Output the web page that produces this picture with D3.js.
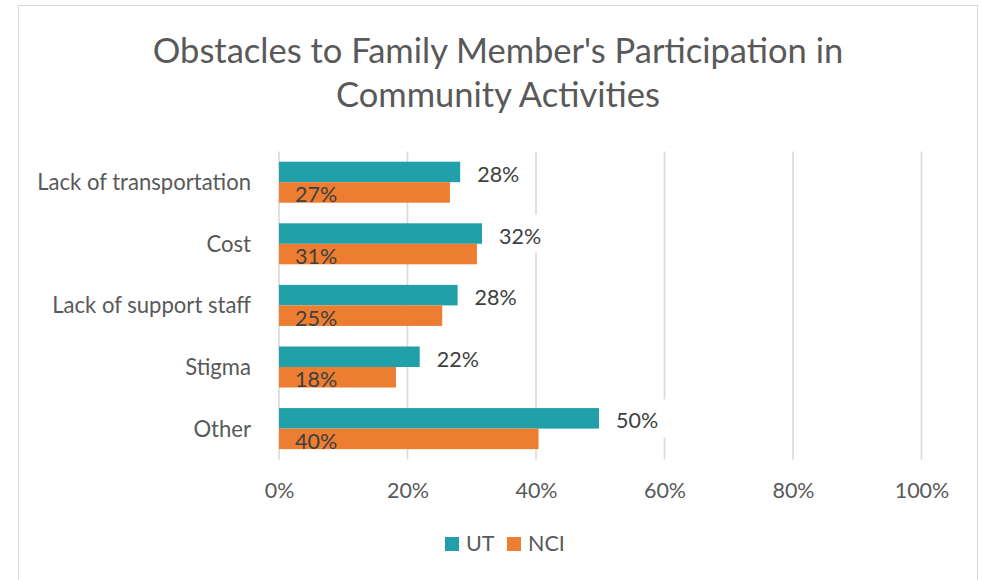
<!DOCTYPE html>
<html>
<head>
<meta charset="utf-8">
<script src="https://cdn.jsdelivr.net/npm/d3@7"></script>
<style>
  html, body { margin: 0; padding: 0; background: #fff; }
  svg { display: block; font-family: Lato, "Open Sans", sans-serif; }
</style>
</head>
<body>
<svg id="chart" width="982" height="580"></svg>
<script>
// Survey data: share of families reporting each obstacle
const categories = ["Lack of transportation", "Cost", "Lack of support staff", "Stigma", "Other"];
const seriesNames = ["UT", "NCI"];
const utValues  = [0.282, 0.316, 0.278, 0.219, 0.498];
const nciValues = [0.266, 0.308, 0.254, 0.182, 0.404];
const xTicks = [0, 0.2, 0.4, 0.6, 0.8, 1.0];
const titleLines = ["Obstacles to Family Member's Participation in", "Community Activities"];

const colors = { UT: "#21A0A9", NCI: "#ED7D31" };
const values = { UT: utValues, NCI: nciValues };
const pct = d3.format(".0%");

const svg = d3.select("#chart");

// Chart frame
svg.append("rect")
  .attr("x", 18.5).attr("y", 5.5)
  .attr("width", 959).attr("height", 600)
  .attr("fill", "#fff").attr("stroke", "#d9d9d9").attr("stroke-width", 1);

// Title
svg.append("text")
  .attr("text-anchor", "middle")
  .attr("fill", "#595959")
  .attr("font-size", 34.5)
  .selectAll("tspan").data(titleLines).join("tspan")
  .attr("x", 498)
  .attr("y", (d, i) => 63 + i * 44)
  .text(d => d);

// Scales
const x = d3.scaleLinear().domain([0, 1]).range([279, 921.5]);
const y = d3.scaleBand().domain(categories).range([151.4, 459.4])
  .paddingInner(0.334).paddingOuter(0.167);
const ySub = d3.scaleBand().domain(seriesNames).range([0, y.bandwidth()]);

// Vertical gridlines
svg.append("g").selectAll("line").data(xTicks).join("line")
  .attr("x1", d => x(d)).attr("x2", d => x(d))
  .attr("y1", 151.4).attr("y2", 459.4)
  .attr("stroke", "#d9d9d9").attr("stroke-width", 1.6);

// Bottom axis labels (no axis line)
const xAxis = d3.axisBottom(x).tickValues(xTicks).tickFormat(pct).tickSize(0).tickPadding(0);
const gx = svg.append("g").attr("transform", "translate(0,498)").call(xAxis);
gx.select(".domain").remove();
gx.selectAll("text")
  .attr("dy", 0).attr("y", 0)
  .attr("font-family", "Lato, sans-serif")
  .attr("font-size", 21.5)
  .attr("fill", "#595959");

// Category labels
svg.append("g").selectAll("text").data(categories).join("text")
  .attr("x", 251)
  .attr("y", d => y(d) + y.bandwidth() / 2 + 8)
  .attr("text-anchor", "end")
  .attr("font-size", 22.1)
  .attr("fill", "#595959")
  .text(d => d);

// Bars
const rows = categories.map((c, i) => ({ c, i }));
seriesNames.forEach(s => {
  svg.append("g").selectAll("rect").data(rows).join("rect")
    .attr("x", x(0))
    .attr("y", d => y(d.c) + ySub(s))
    .attr("width", d => x(values[s][d.i]) - x(0))
    .attr("height", ySub.bandwidth())
    .attr("fill", colors[s]);
});

// UT labels outside bar end, on a white box
const utLabels = svg.append("g").selectAll("g").data(rows).join("g");
utLabels.append("rect")
  .attr("x", d => x(utValues[d.i]) + 8)
  .attr("y", d => y(d.c) + ySub("UT") + ySub.bandwidth() / 2 - 19)
  .attr("width", 59).attr("height", 38)
  .attr("fill", "#fff");
utLabels.append("text")
  .attr("x", d => x(utValues[d.i]) + 17)
  .attr("y", d => y(d.c) + ySub("UT") + ySub.bandwidth() / 2 + 10)
  .attr("font-size", 21.5)
  .attr("fill", "#404040")
  .text(d => pct(utValues[d.i]));

// NCI labels inside bar base
svg.append("g").selectAll("text").data(rows).join("text")
  .attr("x", x(0) + 16)
  .attr("y", d => y(d.c) + ySub("NCI") + ySub.bandwidth() / 2 + 10)
  .attr("font-size", 21.5)
  .attr("fill", "#404040")
  .text(d => pct(nciValues[d.i]));

// Legend
const legendX = { UT: 445, NCI: 507 };
const lg = svg.append("g").selectAll("g").data(seriesNames).join("g")
  .attr("transform", d => `translate(${legendX[d]},537)`);
lg.append("rect").attr("width", 14).attr("height", 14).attr("fill", d => colors[d]);
lg.append("text")
  .attr("x", 21).attr("y", 14)
  .attr("font-size", 21.5)
  .attr("fill", "#595959")
  .text(d => d);
</script>
</body>
</html>
